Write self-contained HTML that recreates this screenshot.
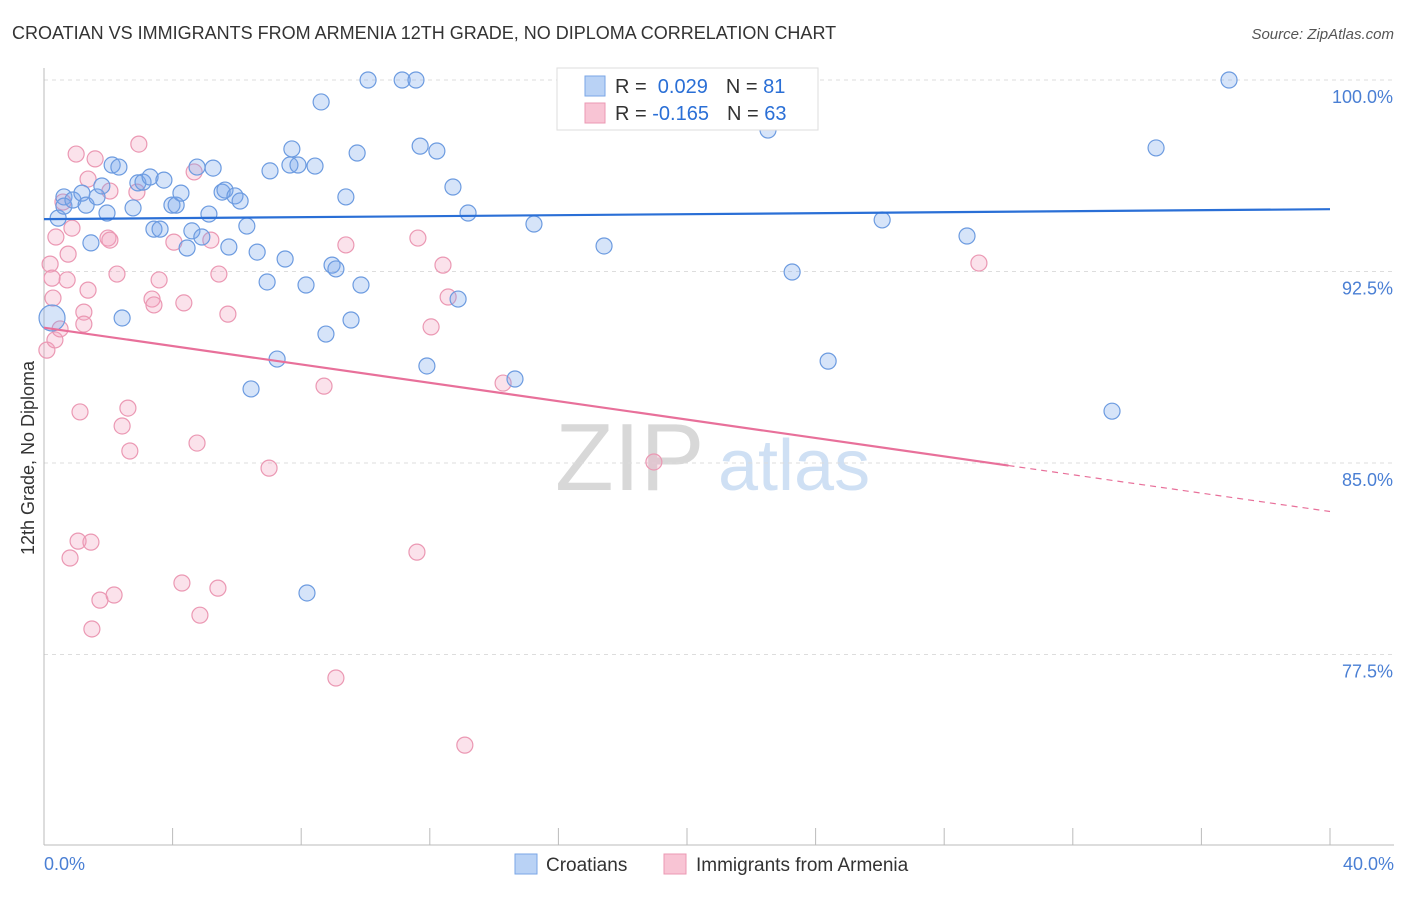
<!DOCTYPE html>
<html><head><meta charset="utf-8">
<style>
body{margin:0;background:#fff;width:1406px;height:892px;overflow:hidden;font-family:"Liberation Sans",sans-serif}
svg text{font-family:"Liberation Sans",sans-serif}
</style></head>
<body>
<svg id="chart" width="1406" height="892" viewBox="0 0 1406 892" xmlns="http://www.w3.org/2000/svg">
<text x="12" y="39" font-size="18" fill="#333">CROATIAN VS IMMIGRANTS FROM ARMENIA 12TH GRADE, NO DIPLOMA CORRELATION CHART</text>
<text x="1394" y="39" font-size="15" fill="#555" text-anchor="end" font-style="italic">Source: ZipAtlas.com</text>
<g>
<text x="555" y="490" font-size="96" fill="#d8d8d8" font-family="Liberation Serif,serif">ZIP</text>
<text x="718" y="490" font-size="72" fill="#cfe0f4">atlas</text>
</g>
<g id="grid"></g>
<g id="axes"></g>
<g id="pts"></g>
<g id="trends"></g>
<text transform="translate(34,458) rotate(-90)" font-size="18" fill="#333" text-anchor="middle">12th Grade, No Diploma</text>
<g>
<rect x="557" y="68" width="261" height="62" fill="#fff" stroke="#ddd"/>
<rect x="585" y="76" width="20" height="20" fill="#b9d2f5" stroke="#7aa6e6"/>
<rect x="585" y="103" width="20" height="20" fill="#f8c4d4" stroke="#eb98b3"/>
<text x="615" y="93" font-size="20" fill="#333">R = <tspan fill="#2a6fd6">&#160;0.029</tspan><tspan dx="18">N = </tspan><tspan fill="#2a6fd6"> 81</tspan></text>
<text x="615" y="120" font-size="20" fill="#333">R = <tspan fill="#2a6fd6">-0.165</tspan><tspan dx="18">N = </tspan><tspan fill="#2a6fd6"> 63</tspan></text>
</g>
<g>
<rect x="515" y="854" width="22" height="20" fill="#b9d2f5" stroke="#7aa6e6"/>
<text x="546" y="871" font-size="19" fill="#333">Croatians</text>
<rect x="664" y="854" width="22" height="20" fill="#f8c4d4" stroke="#eb98b3"/>
<text x="696" y="871" font-size="19" fill="#333">Immigrants from Armenia</text>
</g>
</svg>
<script>
const blueX=[0.25,0.44,0.62,0.62,0.90,1.18,1.31,1.46,1.65,1.80,1.96,2.12,2.33,2.43,2.77,2.92,3.08,3.30,3.42,3.61,3.73,3.98,4.11,4.26,4.45,4.60,4.76,4.91,5.13,5.26,5.54,5.63,5.75,5.94,6.10,6.31,6.44,6.63,6.94,7.03,7.25,7.50,7.65,7.71,7.90,8.15,8.18,8.43,8.62,8.77,8.96,9.08,9.39,9.55,9.74,9.86,10.08,11.14,11.57,11.70,11.91,12.22,12.72,12.88,13.19,14.65,15.24,17.42,18.01,22.27,22.52,23.27,24.39,26.07,28.71,33.22,34.59,36.86,16.73];
const blueY=[90.68,94.59,95.42,95.06,95.30,95.57,95.10,93.62,95.42,95.85,94.79,96.67,96.59,90.68,94.99,95.97,96.00,96.20,94.16,94.16,96.08,95.10,95.10,95.57,93.42,94.09,96.59,93.85,94.75,96.55,95.61,95.69,93.46,95.46,95.26,94.28,87.90,93.26,92.09,96.44,89.07,92.99,96.67,97.30,96.67,91.97,79.91,96.63,99.14,90.05,92.75,92.60,95.42,90.60,97.14,91.97,100,100,100,97.41,88.80,97.22,95.81,91.42,94.79,88.29,94.36,93.50,100,100,98.04,92.48,88.99,94.52,93.89,87.03,97.34,100,98.90];
const pinkX=[0.09,0.19,0.25,0.28,0.34,0.37,0.50,0.59,0.72,0.75,0.81,0.87,1.00,1.06,1.12,1.24,1.24,1.37,1.37,1.46,1.49,1.59,1.74,1.99,2.05,2.05,2.18,2.27,2.43,2.61,2.67,2.89,2.95,3.36,3.42,3.58,4.04,4.29,4.35,4.67,4.76,4.85,5.19,5.41,5.44,5.72,7.00,8.71,9.08,9.39,11.60,11.63,12.04,12.41,12.57,13.09,14.28,18.97,29.08];
const pinkY=[89.42,92.79,92.24,91.46,89.82,93.85,90.25,95.22,92.17,93.18,81.28,94.20,97.10,81.94,87.00,90.91,90.44,96.12,91.77,81.90,78.50,96.91,79.63,93.81,95.65,93.73,79.83,92.40,86.45,87.15,85.47,95.61,97.49,91.42,91.19,92.17,93.65,80.30,91.27,96.40,85.78,79.04,93.73,80.10,92.40,90.83,84.80,88.01,76.58,93.54,81.51,93.81,90.33,92.75,91.50,73.95,88.13,85.04,92.83];
const blueTrend=[94.55,94.94]; // y at x=0, x=40
const pinkTrend=[90.3,83.1];
const pinkSolidEnd=30;
const yTicks=[100,92.5,85,77.5];
const yTickLabels=["100.0%","92.5%","85.0%","77.5%"];
const xTickVals=[0,4,8,12,16,20,24,28,32,36,40];

const X0=44,X1=1330,YTOP=80,YPX=191.5/7.5;
const sx=v=>X0+(v/40)*(X1-X0);
const sy=v=>YTOP+(100-v)*YPX;
const NS="http://www.w3.org/2000/svg";
function mk(tag,attrs,parent){const e=document.createElementNS(NS,tag);for(const k in attrs)e.setAttribute(k,attrs[k]);parent.appendChild(e);return e;}
const grid=document.getElementById('grid'),axes=document.getElementById('axes');
yTicks.forEach((t,i)=>{
 const l=mk('line',{x1:X0,x2:1394,y1:sy(t),y2:sy(t),stroke:'#ddd','stroke-dasharray':'4,4'},grid);
 
 
 const tx=mk('text',{x:1393,y:sy(t)+23,'font-size':18,fill:'#4a7fd4','text-anchor':'end'},axes);
 tx.textContent=yTickLabels[i];
 
 
});
mk('line',{x1:X0,x2:X0,y1:68,y2:845,stroke:'#bbb'},axes);
mk('line',{x1:X0,x2:1394,y1:845,y2:845,stroke:'#bbb'},axes);
xTickVals.forEach(v=>{
 const t=mk('line',{x1:sx(v),x2:sx(v),y1:828,y2:845,stroke:'#bbb'},axes);
 
 
});
const xl0=mk('text',{x:44,y:870,'font-size':18,fill:'#4a7fd4'},axes);xl0.textContent='0.0%';


const xl1=mk('text',{x:1394,y:870,'font-size':18,fill:'#4a7fd4','text-anchor':'end'},axes);xl1.textContent='40.0%';


const pts=document.getElementById('pts');
pinkX.forEach((x,i)=>{
 const c=mk('circle',{cx:sx(x),cy:sy(pinkY[i]),r:8,fill:'rgba(242,160,188,0.3)',stroke:'#eb98b3','stroke-width':1.2},pts);
 
 
});
blueX.forEach((x,i)=>{
 const c=mk('circle',{cx:sx(x),cy:sy(blueY[i]),r:i===0?13:8,fill:'rgba(120,165,235,0.3)',stroke:'#6c9be0','stroke-width':1.2},pts);
 
 
});
const tr=document.getElementById('trends');
const bl=mk('line',{x1:sx(0),y1:sy(blueTrend[0]),x2:sx(40),y2:sy(blueTrend[1]),stroke:'#2a6fd6','stroke-width':2.2},tr);


const pAt=x=>pinkTrend[0]+(pinkTrend[1]-pinkTrend[0])*x/40;
const pl=mk('line',{x1:sx(0),y1:sy(pAt(0)),x2:sx(pinkSolidEnd),y2:sy(pAt(pinkSolidEnd)),stroke:'#e8709a','stroke-width':2.2},tr);


const pd=mk('line',{x1:sx(pinkSolidEnd),y1:sy(pAt(pinkSolidEnd)),x2:sx(40),y2:sy(pAt(40)),stroke:'#e8709a','stroke-width':1.2,'stroke-dasharray':'6,5'},tr);


</script>
</body></html>
